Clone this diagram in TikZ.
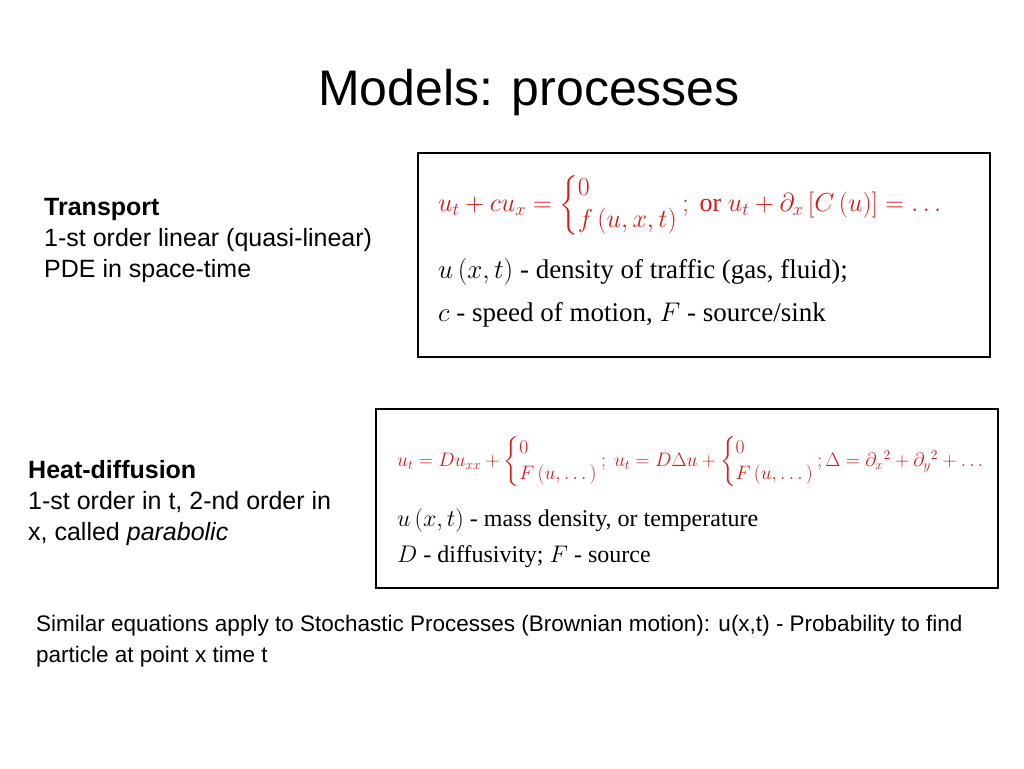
\documentclass[tikz,border=0pt]{standalone}
\usepackage{fix-cm}
\usepackage{amsmath}
\usepackage{fontspec}
\setmainfont{Liberation Serif}
\newfontfamily\sans{Liberation Sans}
\definecolor{eqred}{RGB}{220,20,20}
\newcommand{\twocase}[2]{\left\{\begin{array}{@{}l@{}}#1\\[2pt] #2\end{array}\right.}
\begin{document}
\begin{tikzpicture}[x=1pt,y=-1pt,
  lbl/.style={anchor=north west,align=left,font=\sans\fontsize{25}{31}\selectfont,inner sep=0},
  boxed/.style={draw,line width=1.6pt},
  eq/.style={anchor=west,inner sep=0,text=eqred},
  txt/.style={anchor=west,inner sep=0,font=\fontsize{27}{32}\selectfont}]
\useasboundingbox (0,0) rectangle (1024,768);
\node (title) at (529,93) {\sans\fontsize{50}{58}\selectfont Models: processes};
\node[lbl] (tr) at (44,198) {\textbf{Transport}\\1-st order linear (quasi-linear)\\PDE in space-time};
\draw[boxed] (418,153) rectangle (990,357);
\node[eq,font=\fontsize{26}{30}\selectfont] (e1) at (438,205) {$u_t+cu_x=\twocase{0}{f\left(u,x,t\right)};\ \text{or } u_t+\partial_x\left[C\left(u\right)\right]=\dots$};
\node[txt] (d1) at (438,272) {$u\left(x,t\right)$ - density of traffic (gas, fluid);};
\node[txt] (d2) at (438,315) {$c$ - speed of motion, $F$ - source/sink};
\node[lbl] (hd) at (28,460) {\textbf{Heat-diffusion}\\1-st order in t, 2-nd order in\\x, called \textit{parabolic}};
\draw[boxed] (376,409) rectangle (998,588);
\node[eq,font=\fontsize{19.5}{24}\selectfont] (e2) at (397,462) {$u_t=Du_{xx}+\twocase{0}{F\left(u,\dots\right)};\ u_t=D\Delta u+\twocase{0}{F\left(u,\dots\right)};\Delta=\partial_x{}^2+\partial_y{}^2+\dots$};
\node[txt,font=\fontsize{24}{28}\selectfont] (d3) at (397,520) {$u\left(x,t\right)$ - mass density, or temperature};
\node[txt,font=\fontsize{24}{28}\selectfont] (d4) at (397,557) {$D$ - diffusivity; $F$ - source};
\node[lbl,font=\sans\fontsize{22.5}{31}\selectfont] (sim) at (36,615) {Similar equations apply to Stochastic Processes (Brownian motion): u(x,t) - Probability to find\\particle at point x time t};
\end{tikzpicture}
\end{document}
